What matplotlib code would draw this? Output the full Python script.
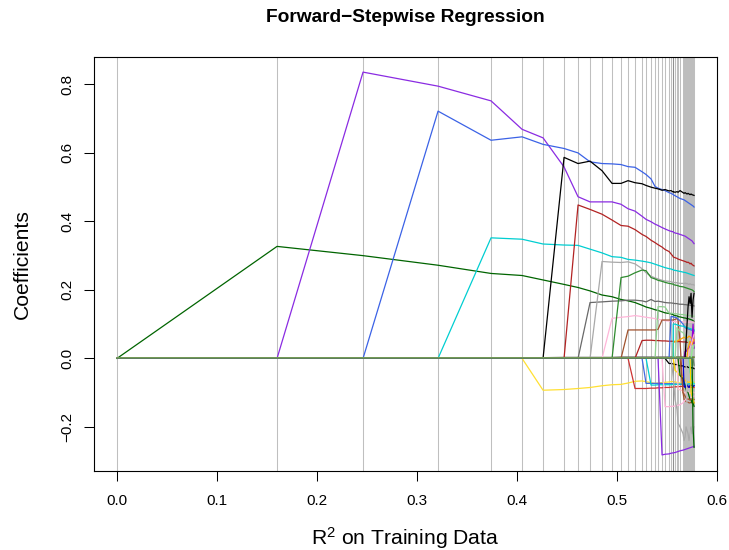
import numpy as np
import matplotlib
matplotlib.use("Agg")
import matplotlib.pyplot as plt

# R^2 reached after each forward step
r2_steps = [0.000, 0.160, 0.246, 0.321, 0.374, 0.405, 0.426, 0.447, 0.461, 0.473,
            0.485, 0.495, 0.504, 0.511, 0.518, 0.525, 0.529, 0.534, 0.538, 0.541,
            0.545, 0.548, 0.552, 0.554, 0.556, 0.5561, 0.5562, 0.558, 0.560, 0.561,
            0.563, 0.566, 0.567, 0.568, 0.569, 0.570, 0.571, 0.572, 0.573, 0.574,
            0.575, 0.576, 0.577]

# coefficient of each variable from the step it enters (zero before that)
v01 = [0.327, 0.300, 0.272, 0.248, 0.242, 0.229, 0.216, 0.207, 0.197,
       0.185, 0.180, 0.172, 0.168, 0.163, 0.155, 0.150, 0.146, 0.142, 0.140,
       0.136, 0.133, 0.131, 0.130, 0.128, 0.128, 0.127, 0.125, 0.124, 0.122,
       0.121, 0.119, 0.118, 0.118, 0.117, 0.116, 0.116, 0.115, 0.114, 0.113,
       0.112, 0.110, 0.108]
v02 = [0.836, 0.795, 0.752, 0.669, 0.644, 0.559, 0.472, 0.457,
       0.457, 0.457, 0.450, 0.437, 0.430, 0.415, 0.406, 0.399, 0.392, 0.388,
       0.382, 0.378, 0.373, 0.371, 0.370, 0.369, 0.369, 0.366, 0.365, 0.364,
       0.362, 0.359, 0.358, 0.357, 0.355, 0.353, 0.351, 0.349, 0.347, 0.345,
       0.343, 0.339, 0.335]
v03 = [0.722, 0.637, 0.647, 0.625, 0.613, 0.600, 0.574,
       0.569, 0.568, 0.566, 0.560, 0.558, 0.545, 0.537, 0.524, 0.502, 0.497,
       0.493, 0.490, 0.484, 0.482, 0.479, 0.479, 0.478, 0.475, 0.472, 0.470,
       0.467, 0.464, 0.463, 0.461, 0.459, 0.457, 0.455, 0.453, 0.451, 0.449,
       0.447, 0.445, 0.442]
v04 = [0.352, 0.348, 0.334, 0.331, 0.330, 0.319,
       0.308, 0.297, 0.295, 0.289, 0.287, 0.284, 0.282, 0.279, 0.275, 0.272,
       0.268, 0.265, 0.262, 0.261, 0.259, 0.259, 0.258, 0.257, 0.256, 0.255,
       0.254, 0.252, 0.251, 0.251, 0.250, 0.249, 0.248, 0.247, 0.246, 0.245,
       0.244, 0.243, 0.242]
v05 = [0.002, 0.002, 0.003, 0.003, 0.003,
       0.003, 0.003, 0.004, 0.004, 0.004, 0.004, 0.004, 0.004, 0.004, 0.004,
       0.004, 0.004, 0.004, 0.004, 0.004, 0.004, 0.004, 0.004, 0.004, 0.004,
       0.004, 0.004, 0.004, 0.004, 0.004, 0.004, 0.004, 0.004, 0.004, 0.004,
       0.004, 0.004, 0.004]
v06 = [-0.093, -0.091, -0.088, -0.085,
       -0.080, -0.077, -0.076, -0.072, -0.067, -0.066, -0.068, -0.071, -0.073, -0.072,
       -0.071, -0.070, -0.069, -0.068, -0.068, -0.068, -0.068, -0.069, -0.070, -0.071,
       -0.072, -0.073, -0.074, -0.075, -0.076, -0.076, -0.077, -0.078, -0.078, -0.079,
       -0.080, -0.082, -0.085]
v07 = [0.587, 0.569, 0.576,
       0.548, 0.511, 0.511, 0.519, 0.513, 0.510, 0.505, 0.500, 0.497, 0.495,
       0.491, 0.493, 0.489, 0.490, 0.486, 0.486, 0.487, 0.485, 0.487, 0.485,
       0.490, 0.484, 0.482, 0.484, 0.482, 0.480, 0.482, 0.480, 0.478, 0.480,
       0.478, 0.477, 0.476]
v08 = [0.448, 0.435,
       0.421, 0.404, 0.388, 0.386, 0.376, 0.362, 0.356, 0.345, 0.338, 0.332,
       0.325, 0.318, 0.312, 0.305, 0.298, 0.297, 0.296, 0.294, 0.292, 0.290,
       0.288, 0.285, 0.284, 0.283, 0.282, 0.280, 0.281, 0.279, 0.276, 0.278,
       0.274, 0.272, 0.270]
v09 = [0.163,
       0.165, 0.167, 0.168, 0.170, 0.170, 0.168, 0.165, 0.172, 0.166, 0.167,
       0.165, 0.163, 0.162, 0.162, 0.161, 0.161, 0.161, 0.160, 0.160, 0.159,
       0.158, 0.158, 0.157, 0.157, 0.157, 0.156, 0.156, 0.156, 0.155, 0.155,
       0.155, 0.154, 0.153]
v10 = [0.283, 0.281, 0.280, 0.282, 0.276, 0.262, 0.250, 0.240, 0.235, 0.232,
       0.228, 0.226, 0.225, 0.224, 0.222, 0.222, 0.222, 0.221, 0.221, 0.220,
       0.219, 0.219, 0.218, 0.220, 0.218, 0.219, 0.217, 0.216, 0.218, 0.216,
       0.215, 0.216, 0.214]
v11 = [0.117, 0.120, 0.122, 0.125, 0.122, 0.120, 0.118, 0.116, 0.114,
       0.112, 0.110, 0.109, 0.108, 0.108, 0.108, 0.108, 0.107, 0.107, 0.107,
       0.107, 0.107, 0.106, 0.106, 0.106, 0.106, 0.106, 0.106, 0.106, 0.106,
       0.106, 0.106, 0.106]
v12 = [0.236, 0.240, 0.250, 0.258, 0.256, 0.236, 0.232, 0.228,
       0.225, 0.222, 0.219, 0.218, 0.217, 0.217, 0.216, 0.214, 0.213, 0.212,
       0.210, 0.209, 0.208, 0.207, 0.206, 0.205, 0.204, 0.203, 0.202, 0.201,
       0.200, 0.198, 0.195]
v13 = [0.083, 0.083, 0.083, 0.083, 0.083, 0.083, 0.085,
       0.112, 0.112, 0.112, 0.112, 0.112, 0.112, 0.112, 0.114, 0.116, 0.112,
       0.050, -0.100, -0.120, -0.122, -0.126, -0.128, -0.128, -0.130, -0.130, -0.128,
       -0.130, -0.132, -0.130]
v14 = [-0.088, -0.088, -0.088, -0.087, -0.087, -0.086,
       -0.086, -0.085, -0.085, -0.084, -0.084, -0.084, -0.084, -0.083, -0.083, -0.083,
       -0.082, -0.082, -0.082, -0.082, -0.083, -0.083, -0.083, -0.084, -0.084, -0.084,
       -0.085, -0.085, -0.085]
v15 = [0.052, 0.053, 0.053, 0.052, 0.052,
       0.051, 0.051, 0.050, 0.050, 0.050, 0.050, 0.050, 0.049, 0.049, 0.049,
       0.049, 0.048, 0.048, 0.048, 0.048, 0.047, 0.047, 0.047, 0.046, 0.046,
       0.046, 0.045, 0.045]
v16 = [-0.073, -0.073, -0.073, -0.073,
       -0.073, -0.074, -0.074, -0.074, -0.074, -0.074, -0.074, -0.075, -0.075, -0.075,
       -0.076, -0.076, -0.076, -0.077, -0.077, -0.077, -0.078, -0.078, -0.078, -0.079,
       -0.079, -0.080, -0.080]
v17 = [-0.078, -0.078, -0.077,
       -0.077, -0.077, -0.077, -0.077, -0.076, -0.076, -0.076, -0.076, -0.076, -0.076,
       -0.075, -0.075, -0.075, -0.075, -0.075, -0.075, -0.075, -0.074, -0.074, -0.074,
       -0.074, -0.074, -0.074]
v18 = [0.002, 0.002,
       0.002, 0.002, 0.002, 0.003, 0.003, 0.003, 0.003, 0.003, 0.003, 0.003,
       0.003, 0.003, 0.003, 0.003, 0.003, 0.003, 0.003, 0.003, 0.003, 0.003,
       0.003, 0.003, 0.003]
v19 = [0.151,
       0.151, 0.150, 0.132, 0.132, 0.131, 0.131, 0.131, 0.130, 0.130, 0.129,
       0.128, 0.128, 0.127, 0.127, 0.126, 0.126, 0.125, 0.125, 0.125, 0.124,
       0.124, 0.123, 0.123]
v20 = [-0.282, -0.280, -0.279, -0.277, -0.276, -0.276, -0.276, -0.275, -0.273, -0.272,
       -0.270, -0.268, -0.267, -0.266, -0.265, -0.264, -0.263, -0.262, -0.261, -0.260,
       -0.259, -0.258, -0.257]
v21 = [-0.141, -0.141, -0.140, -0.140, -0.140, -0.140, -0.139, -0.138, -0.137,
       -0.135, -0.130, -0.125, -0.122, -0.120, -0.118, -0.117, -0.116, -0.115, -0.114,
       -0.113, -0.112, -0.110]
v22 = [-0.015, -0.015, -0.016, -0.016, -0.016, -0.018, -0.018, -0.020,
       -0.022, -0.022, -0.024, -0.025, -0.025, -0.024, -0.026, -0.027, -0.026, -0.028,
       -0.027, -0.028, -0.030]
v23 = [0.122, 0.122, 0.121, 0.121, 0.120, 0.118, 0.115,
       0.110, 0.100, 0.095, 0.090, 0.088, 0.087, 0.086, 0.085, 0.084, 0.083,
       0.082, 0.081, 0.080]
v24 = [-0.050, -0.052, -0.054, -0.120, -0.150, -0.190,
       -0.200, -0.220, -0.240, -0.230, -0.200, -0.210, -0.220, -0.240, -0.210, -0.200,
       -0.220, -0.210, -0.200]
v25 = [0.040, 0.045, 0.050, 0.050, 0.052,
       0.055, 0.060, 0.062, 0.060, 0.058, 0.060, 0.062, 0.065, 0.063, 0.060,
       0.058, 0.055, 0.050]
v26 = [0.100, 0.100, 0.098, 0.097,
       0.095, 0.094, 0.093, 0.092, 0.091, 0.090, 0.089, 0.088, 0.087, 0.086,
       0.085, 0.084, 0.083]
v27 = [-0.035, -0.040, -0.045,
       -0.050, -0.055, -0.060, -0.065, -0.066, -0.068, -0.070, -0.070, -0.068, -0.070,
       -0.072, -0.070, -0.070]
v28 = [0.090, 0.085,
       0.080, 0.075, 0.070, 0.065, 0.060, 0.055, 0.050, 0.045, 0.040, 0.035,
       0.030, 0.030, 0.028]
v29 = [-0.090,
       -0.092, -0.095, -0.100, -0.100, -0.102, -0.100, -0.098, -0.100, -0.103, -0.100,
       -0.100, -0.098, -0.100]
v30 = [-0.050, -0.060, -0.070, -0.080, -0.090, -0.100, -0.100, -0.110, -0.120, -0.120,
       -0.130, -0.130, -0.140]
v31 = [-0.100, -0.105, -0.110, -0.115, -0.120, -0.118, -0.120, -0.122, -0.120,
       -0.118, -0.120, -0.120]
v32 = [-0.080, -0.085, -0.080, -0.078, -0.082, -0.085, -0.080, -0.078,
       -0.080, -0.082, -0.080]
v33 = [0.020, 0.020, 0.025, 0.030, 0.030, 0.035, 0.040, 0.050, 0.100, 0.030]
v34 = [0.050, 0.100, 0.150, 0.180, 0.160, 0.190, 0.120, 0.170, 0.190]
v35 = [-0.150, -0.180, -0.200, -0.220, -0.240, -0.250, -0.230, -0.220]
v36 = [0.030, 0.040, 0.050, 0.045, 0.040, 0.050, 0.055]
v37 = [0.020, 0.030, 0.040, 0.050, 0.060, 0.070]
v38 = [-0.040, -0.050, -0.060, -0.070, -0.075]
v39 = [-0.100, -0.110, -0.120, -0.130]
v40 = [0.020, 0.030, 0.040]
v41 = [-0.200, -0.260]
v42 = [-0.020]

coefs = [v01, v02, v03, v04, v05, v06, v07, v08, v09, v10,
         v11, v12, v13, v14, v15, v16, v17, v18, v19, v20,
         v21, v22, v23, v24, v25, v26, v27, v28, v29, v30,
         v31, v32, v33, v34, v35, v36, v37, v38, v39, v40,
         v41, v42]

colors = ["#006400", "#8A2BE2", "#3B62E6", "#00CED1", "#696969", "#FFE033", "#000000",
          "#B22222", "#696969", "#A9A9A9", "#FFB6D9", "#2E8B2E", "#A0522D", "#CD3333",
          "#B22222", "#4169E1", "#00CED1", "#6B8E23", "#90D090", "#8A2BE2", "#FFB6D9",
          "#000000", "#4169E1", "#A9A9A9", "#FFA500", "#00CED1", "#FFD700", "#98D898",
          "#FFC0CB", "#006400", "#A0522D", "#0000CD", "#9400D3", "#000000", "#BEBEBE",
          "#FFA500", "#FFB6C1", "#40E0D0", "#FFD700", "#90EE90", "#006400", "#5F7F5F"]

plt.rcParams['font.family'] = ['Liberation Sans', 'DejaVu Sans']
plt.rcParams['mathtext.fontset'] = 'custom'
plt.rcParams['mathtext.rm'] = 'Liberation Sans'

fig = plt.figure(figsize=(7.29, 5.5), dpi=100)
ax = fig.add_axes([0.129, 0.1436, 0.8546, 0.7533])

# one grey line per step
for s in r2_steps:
    ax.axvline(s, color="grey", alpha=0.5, lw=0.75, zorder=1)

for vals, col in zip(coefs, colors):
    y = [0.0] * (len(r2_steps) - len(vals)) + vals
    ax.plot(r2_steps, y, color=col, lw=0.9, zorder=2)

ax.set_xlim(-0.023, 0.600)
ax.set_ylim(-0.329, 0.881)
ax.set_xticks(np.round(np.arange(0, 0.61, 0.1), 1))
ax.set_yticks([-0.2, 0.0, 0.2, 0.4, 0.6, 0.8])

ax.tick_params(axis="both", direction="out", length=7.5, width=0.75, labelsize=11)
ax.tick_params(axis="x", pad=8.8)
ax.tick_params(axis="y", pad=6.5, labelrotation=90)
for lab in ax.get_yticklabels():
    lab.set_va("center")

for sp in ax.spines.values():
    sp.set_color("black")
    sp.set_linewidth(0.8)

ax.set_title("Forward\u2212Stepwise Regression", fontsize=13.8, fontweight="bold", pad=25)
ax.set_xlabel(r"$\mathregular{R^2}$ on Training Data", fontsize=15.2)
ax.set_ylabel("Coefficients", fontsize=15.2)
ax.xaxis.set_label_coords(0.5, -0.13)
ax.yaxis.set_label_coords(-0.100, 0.5)

fig.savefig("out.png", dpi=100)
